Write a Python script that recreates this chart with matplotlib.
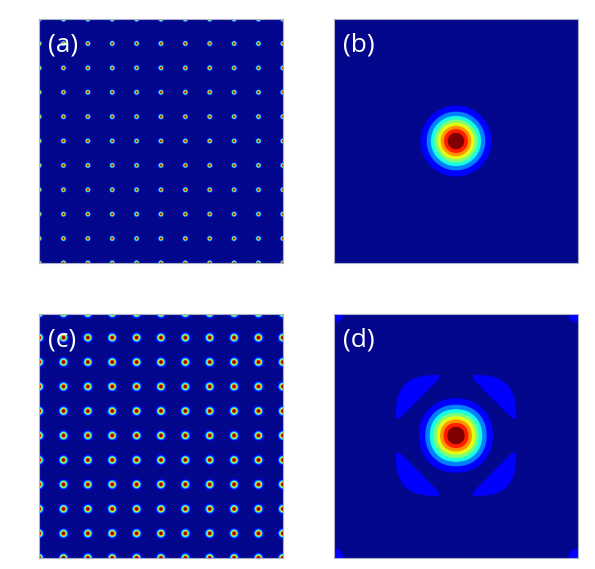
import numpy as np
import matplotlib.pyplot as plt
from matplotlib.colors import ListedColormap, BoundaryNorm

# panel labels
labels = ['(a)', '(b)', '(c)', '(d)']

# lattice panels (a), (c): 10 periods across, dot width in periods
n_periods = 10
dot_sigma = [0.062, 0.09]
halo_amp = [0.0, 0.12]
halo_sigma = [0.2, 0.22]

# single peak panels (b), (d): coords -1..1, widths in the same units
peak_sigma = [0.139, 0.145]
lobe_amp = 0.18
lobe_diamond = 0.6
lobe_outer = 0.5
lobe_gap = 0.135
corner_amp = 0.15
corner_sigma = 0.1

n_levels = 9
jet = plt.get_cmap('jet')
colors = [jet(i / (n_levels - 1)) for i in range(n_levels)]
colors[0] = '#03078c'
cmap = ListedColormap(colors)
norm = BoundaryNorm(np.linspace(0, 1, n_levels + 1), cmap.N, clip=True)

N = 900


def lattice(i):
    t = np.linspace(0, n_periods, N)
    x, y = np.meshgrid(t, t)
    dx = x - np.round(x)
    dy = y - np.round(y)
    r2 = dx**2 + dy**2
    f = np.exp(-r2 / (2 * dot_sigma[i]**2))
    f += halo_amp[i] * np.exp(-r2 / (2 * halo_sigma[i]**2))
    return f


def step(v, k=0.012):
    return 0.5 * (1 + np.tanh(v / k))


def peak(i):
    t = np.linspace(-1, 1, N)
    x, y = np.meshgrid(t, t)
    if i == 0:
        r2 = x**2 + y**2
        return np.exp(-r2 / (2 * peak_sigma[0]**2))
    p = 2.15
    rp = (np.abs(x)**p + np.abs(y)**p)**(1 / p)
    f = np.exp(-rp**2 / (2 * peak_sigma[1]**2))
    q = (np.abs(x)**4 + np.abs(y)**4)**(1 / 4)
    lobe = step(lobe_outer - q) * step(np.abs(x) + np.abs(y) - lobe_diamond)
    lobe *= step(np.abs(x) - lobe_gap) * step(np.abs(y) - lobe_gap)
    f += lobe_amp * lobe
    for cx in (-1, 1):
        for cy in (-1, 1):
            f += corner_amp * np.exp(-((x - cx)**2 + (y - cy)**2) / (2 * corner_sigma**2))
    return f


fig = plt.figure(figsize=(5.95, 5.69), dpi=100)
W, H = 595, 569
boxes = [(39, 19), (334, 19), (39, 314), (334, 314)]
fields = [lattice(0), peak(0), lattice(1), peak(1)]

for k, ((px, py), f) in enumerate(zip(boxes, fields)):
    ax = fig.add_axes([px / W, 1 - (py + 244) / H, 244 / W, 244 / H])
    ax.imshow(np.clip(f, 0, 1), cmap=cmap, norm=norm, origin='lower',
              interpolation='antialiased', aspect='auto')
    ax.set_xticks([]); ax.set_yticks([])
    for s in ax.spines.values():
        s.set_color('#aab0c8')
        s.set_linewidth(0.8)
    ax.text(0.036, 0.945, labels[k], transform=ax.transAxes, color='white',
            fontsize=19, va='top', ha='left', family='Open Sans')

fig.savefig('out.png', dpi=100)
